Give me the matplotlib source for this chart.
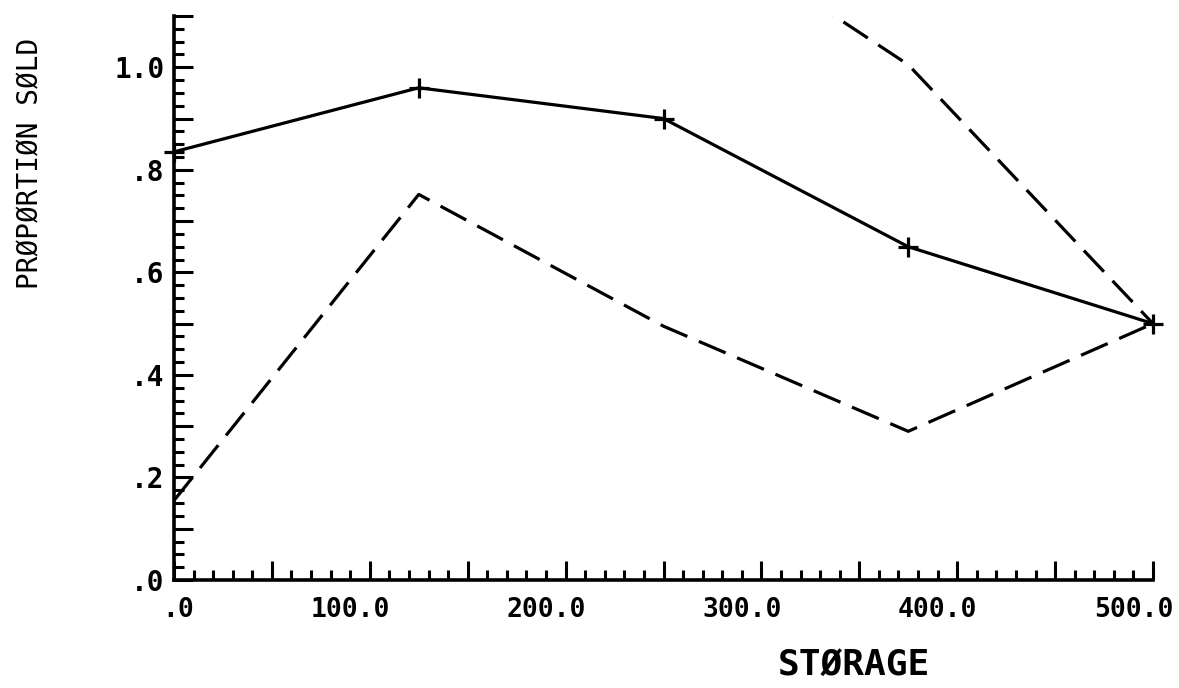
import numpy as np
import matplotlib
matplotlib.use('Agg')
from matplotlib import pyplot as plt
from matplotlib.ticker import MultipleLocator, FuncFormatter
from matplotlib.transforms import ScaledTranslation

# data
storage = [0, 125, 250, 375, 500]
sold = [0.835, 0.96, 0.90, 0.65, 0.50]
lower = [0.155, 0.752, 0.495, 0.29, 0.50]
upper_x = [250, 375, 500]
upper = [1.32, 1.005, 0.50]

plt.rcParams['lines.scale_dashes'] = False
FONT = 'DejaVu Sans Mono'

def xfmt(v, pos):
	if abs(v % 100) > 1e-6:
		return ''
	s = '%.1f' % v
	return s[1:] if s.startswith('0') else s

def yfmt(v, pos):
	k = int(round(v*10))
	if k % 2 or abs(v*10-k) > 1e-6:
		return ''
	s = '%.1f' % v
	return s[1:] if s.startswith('0') else s

def main():
	fig = plt.figure(figsize=(11.79, 6.88), dpi=100)
	xmax = 505
	ax = fig.add_axes([174/1179, 1-580/688, (1153-174)/1179*xmax/500, (580-16)/688])

	ax.plot(storage, sold, color='black', lw=2.3, marker='+', ms=15, mew=2.3, clip_on=False)
	ax.plot(storage, lower, color='black', lw=2.3, dashes=(21, 9))
	ax.plot(upper_x, upper, color='black', lw=2.3, dashes=(21, 9))

	ax.set_xlim(0, xmax)
	ax.set_ylim(0, 1.1)
	for s in ['top', 'right']:
		ax.spines[s].set_visible(False)
	ax.spines['bottom'].set_bounds(0, 500)
	ax.spines['left'].set_bounds(0, 1.1)
	for s in ['bottom', 'left']:
		ax.spines[s].set_linewidth(2.6)

	ax.xaxis.set_major_locator(MultipleLocator(50))
	ax.xaxis.set_minor_locator(MultipleLocator(10))
	ax.yaxis.set_major_locator(MultipleLocator(0.1))
	ax.yaxis.set_minor_locator(MultipleLocator(0.025))
	ax.xaxis.set_major_formatter(FuncFormatter(xfmt))
	ax.yaxis.set_major_formatter(FuncFormatter(yfmt))
	ax.tick_params(which='major', direction='in', length=14, width=2.2, pad=12)
	ax.tick_params(which='minor', direction='in', length=7.5, width=2.2)
	ax.tick_params(axis='y', which='major', pad=7)

	for lab in ax.get_xticklabels():
		lab.set_fontfamily(FONT)
		lab.set_fontweight('bold')
		lab.set_fontsize(19)
		lab.set_horizontalalignment('right')
		lab.set_transform(lab.get_transform() + ScaledTranslation(0.2, 0, fig.dpi_scale_trans))
	for lab in ax.get_yticklabels():
		lab.set_fontfamily(FONT)
		lab.set_fontweight('bold')
		lab.set_fontsize(20)

	fig.text(854/1179, 1-665/688, 'STØRAGE', family=FONT, fontsize=26,
		fontweight='bold', ha='center', va='center')
	fig.text(30/1179, 1-163/688, 'PRØPØRTIØN SØLD', family=FONT, fontsize=20,
		ha='center', va='center', rotation=90)

	fig.savefig('out.png', dpi=100)

if __name__=="__main__":
	main()
